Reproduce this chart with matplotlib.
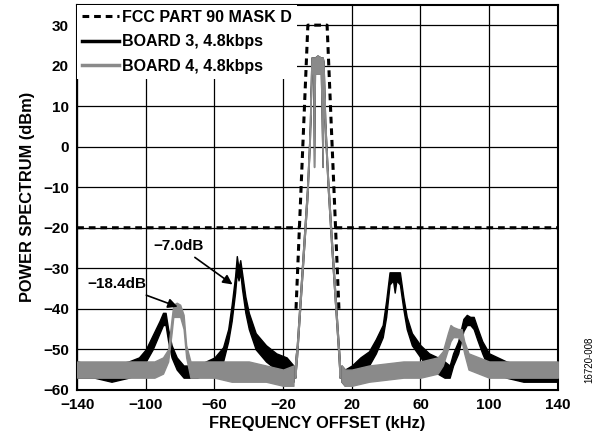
import numpy as np
import matplotlib.pyplot as plt

plt.rcParams['font.family'] = ['Liberation Sans', 'DejaVu Sans']
plt.rcParams['font.weight'] = 'bold'

# FCC part 90 mask D outline (kHz, dBm); nan breaks the polyline
mask_f = [-140, -10.5, np.nan, -12.5, -5.6, 5.6, 12.5, np.nan, 10.5, 140]
mask_p = [-20, -20, np.nan, -40, 30, 30, -40, np.nan, -20, -20]

# central carrier (shared shape), kHz / lower / upper envelope in dBm
center_f = [-13, -12, -10, -8, -6, -4.5, -3.5, -2.5, -2, -1.5, 0, 2, 3, 3.5, 4.5, 6, 8, 10, 12, 13]
center_lo = [-57, -52, -39, -26, -13, 1, 18, 19, -5, 18, 18, 18, -5, 16, 3, -10, -24, -37, -50, -57]
center_hi = [-53, -49, -36, -23, -10, 4, 22, 22, 22, 22, 22.5, 22, 22, 21, 6, -7, -21, -34, -47, -53]

# board 3 (black) envelope
b3_left_f = [-140, -130, -120, -110, -104, -100, -96, -92, -90, -88.5, -87, -85, -82, -78, -70, -60,
             -55, -52, -50, -48, -47, -46, -45, -44, -42, -40, -36, -30, -24, -18, -14]
b3_left_lo = [-57, -57, -58, -57, -56, -53, -50, -46, -44, -44, -48, -52, -55, -57, -57, -55,
              -53, -48, -43, -36, -31, -33, -31, -35, -41, -45, -50, -53, -55, -56, -58]
b3_left_hi = [-53, -54, -54, -53, -52, -50, -46.5, -43, -41, -41, -45, -49, -52, -54, -54, -52,
              -49.5, -45, -39, -32, -27, -30, -28, -31, -37, -41, -46, -49, -51, -52, -54]
b3_right_f = [14, 16, 20, 25, 30, 34, 38, 40, 42, 44, 45, 46, 48, 50, 52, 55, 60, 65, 70, 74, 77,
              79, 82, 85, 87, 89, 91, 93, 96, 100, 110, 120, 130, 140]
b3_right_lo = [-58, -59, -58, -57, -54, -51, -47, -42, -34, -33, -36, -33, -34, -40, -45, -49, -52,
               -55, -56, -57, -57, -54, -51, -45.5, -44, -44, -45, -47.5, -51, -55, -57, -58, -58, -58]
b3_right_hi = [-54, -55, -54, -52, -50.5, -47.5, -44, -38, -31, -31, -31, -31, -31, -37, -42, -46, -49,
               -51, -52, -53, -54, -51, -48, -42.5, -41.5, -42, -42, -44.5, -48, -51, -53, -54, -54, -54]

# board 4 (grey) envelope
b4_left_f = [-140, -120, -105, -95, -90, -87, -85, -84, -82, -80, -78, -76.5, -74, -60, -50, -40,
             -30, -20, -14]
b4_left_lo = [-57, -57, -57, -57, -56, -53, -46, -42, -42, -42, -45, -52, -57, -57, -58, -58,
              -58, -59, -59]
b4_left_hi = [-53, -53, -53, -53, -52, -50, -42.5, -39, -38.5, -39, -41.5, -49, -53, -53, -53, -53,
              -54, -55, -54]
b4_right_f = [14, 16, 20, 30, 50, 60, 70, 73, 76, 77.5, 79, 82, 84, 85.5, 88, 100, 120, 140]
b4_right_lo = [-58, -59, -59, -58, -57, -57, -56, -54, -50, -48, -47, -47, -48, -51, -55, -57, -57, -57]
b4_right_hi = [-54, -55, -55, -54, -53, -53, -52, -50.5, -46, -44, -44.5, -45, -45, -48, -51, -53, -53, -53]

x_ticks = [-140, -100, -60, -20, 20, 60, 100, 140]
y_ticks = [-60, -50, -40, -30, -20, -10, 0, 10, 20, 30]

GREY = '#8a8a8a'

fig = plt.figure(figsize=(6.03, 4.44), dpi=100)
ax = fig.add_axes([0.128, 0.122, 0.797, 0.867])


def draw_board(f, lo, hi, color, z):
    ax.fill_between(f, lo, hi, color=color, lw=1.0, edgecolor=color, zorder=z)


for f, lo, hi in [(b3_left_f, b3_left_lo, b3_left_hi),
                  (center_f, center_lo, center_hi),
                  (b3_right_f, b3_right_lo, b3_right_hi)]:
    draw_board(f, lo, hi, 'black', 3)
for f, lo, hi in [(b4_left_f, b4_left_lo, b4_left_hi),
                  (center_f, center_lo, center_hi),
                  (b4_right_f, b4_right_lo, b4_right_hi)]:
    draw_board(f, lo, hi, GREY, 4)

ax.plot(mask_f, mask_p, color='black', lw=2.2, ls=(0, (2.2, 1.6)), zorder=5)

# legend proxies
h_mask, = ax.plot([], [], color='black', lw=2.2, ls=(0, (2.2, 1.6)))
h_b3, = ax.plot([], [], color='black', lw=2.5)
h_b4, = ax.plot([], [], color=GREY, lw=2.5)
leg = ax.legend([h_mask, h_b3, h_b4],
                ['FCC PART 90 MASK D', 'BOARD 3, 4.8kbps', 'BOARD 4, 4.8kbps'],
                loc='upper left', bbox_to_anchor=(0, 1), borderaxespad=0.0,
                borderpad=0.3, handlelength=2.3, handletextpad=0.2,
                labelspacing=0.6, fancybox=False, framealpha=1,
                prop={'size': 11.5, 'weight': 'bold'})
leg.get_frame().set_edgecolor('none')
leg.set_zorder(10)

ax.annotate('\u22127.0dB', xy=(-49.5, -34), xytext=(-66, -24.5),
            ha='right', va='center', fontsize=11, fontweight='bold',
            arrowprops=dict(arrowstyle='-|>', color='black', lw=1.2,
                            mutation_scale=14, shrinkA=2, shrinkB=0), zorder=8)
ax.annotate('\u221218.4dB', xy=(-81.5, -39.5), xytext=(-99.5, -34),
            ha='right', va='center', fontsize=11, fontweight='bold',
            arrowprops=dict(arrowstyle='-|>', color='black', lw=1.2,
                            mutation_scale=14, shrinkA=2, shrinkB=0), zorder=8)

ax.set_xlim(-140, 140)
ax.set_ylim(-60, 35)
ax.set_xticks(x_ticks)
ax.set_yticks(y_ticks)
ax.set_xticklabels([str(t).replace('-', '\u2212') for t in x_ticks])
ax.set_yticklabels([str(t).replace('-', '\u2212') for t in y_ticks])
ax.tick_params(length=0, labelsize=11, pad=6)
for lab in ax.get_xticklabels() + ax.get_yticklabels():
    lab.set_fontweight('bold')
ax.grid(True, color='black', lw=0.9)
ax.set_axisbelow(True)
for s in ax.spines.values():
    s.set_linewidth(1.5)

ax.set_xlabel('FREQUENCY OFFSET (kHz)', fontsize=11.8, fontweight='bold', labelpad=3)
ax.set_ylabel('POWER SPECTRUM (dBm)', fontsize=11.8, fontweight='bold', labelpad=6)

fig.text(0.978, 0.19, '16720-008', rotation=90, fontsize=7, fontweight='normal',
         ha='center', va='center')

fig.savefig('out.png', dpi=100)
